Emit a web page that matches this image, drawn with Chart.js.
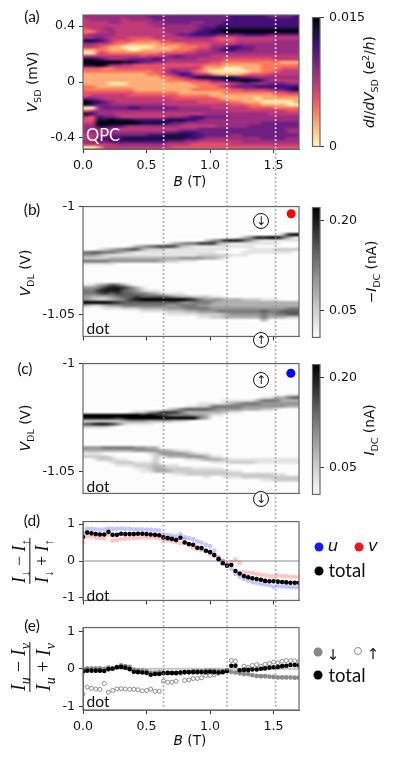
<!DOCTYPE html>
<html>
<head>
<meta charset="utf-8">
<script src="https://cdn.jsdelivr.net/npm/chart.js"></script>
<style>
  html, body { margin: 0; padding: 0; background: #fff; }
  #page { position: relative; width: 398px; height: 757px; overflow: hidden; filter: blur(.3px); }
  canvas { position: absolute; left: 0; }
  .t { position: absolute; transform: translate(-50%, -50%); white-space: nowrap; color: #111; z-index: 5;
       font-family: "DejaVu Sans"; font-size: 13.7px; line-height: 1; }
  .rot { transform: translate(-50%, -50%) rotate(-90deg); }
  .note { font-family: Lato; font-size: 15.5px; }
  .big { font-family: Lato; font-size: 18.5px; }
  .dot { position: absolute; width: 9px; height: 9px; border-radius: 50%; transform: translate(-50%, -50%); z-index: 5; }
  .spin { position: absolute; width: 14px; height: 14px; border: 1px solid #111; border-radius: 50%; background: #fff;
          transform: translate(-50%, -50%); z-index: 5; font: 12px/14px "DejaVu Sans"; text-align: center; color: #111; }
  .frac { display: flex; flex-direction: column; align-items: center; font-family: "Liberation Serif"; font-size: 18px; }
  .frac i { font-style: italic; }
  .frac span { padding: 0 1px; }
  .frac .bar { width: 100%; height: 1.3px; background: #111; margin: 1px 0 3px; padding: 0; }
  sub { font-size: 70%; line-height: 0; }
  sup { font-size: 70%; line-height: 0; }
</style>
</head>
<body>
<div id="page">
  <canvas id="panelA" width="312" height="172" style="top:0"></canvas>
  <canvas id="panelB" width="312" height="153" style="top:195px"></canvas>
  <canvas id="panelC" width="312" height="153" style="top:352px"></canvas>
  <canvas id="panelD" width="312" height="102" style="top:510px"></canvas>
  <canvas id="panelE" width="312" height="117" style="top:616px"></canvas>
  <canvas id="barA" width="78" height="154" style="left:305px;top:5px"></canvas>
  <canvas id="barB" width="78" height="155" style="left:305px;top:195px"></canvas>
  <canvas id="barC" width="78" height="155" style="left:305px;top:352px"></canvas>
  <canvas id="guides" width="398" height="757" style="top:0;z-index:3"></canvas>

  <div class="t note" style="left:32px;top:17px">(a)</div>
  <div class="t note" style="left:32px;top:210px">(b)</div>
  <div class="t note" style="left:25px;top:369px">(c)</div>
  <div class="t note" style="left:32px;top:521px">(d)</div>
  <div class="t note" style="left:32px;top:626px">(e)</div>

  <div class="t rot" style="left:33px;top:82px"><i>V</i><sub>SD</sub> (mV)</div>
  <div class="t rot" style="left:26px;top:273px"><i>V</i><sub>DL</sub> (V)</div>
  <div class="t rot" style="left:26px;top:428px"><i>V</i><sub>DL</sub> (V)</div>
  <div class="t" style="left:190px;top:182px"><i>B</i> (T)</div>
  <div class="t" style="left:190px;top:741px"><i>B</i> (T)</div>

  <div class="t rot" style="left:370px;top:82px"><i>dI</i>/<i>dV</i><sub>SD</sub> (<i>e</i><sup>2</sup>/<i>h</i>)</div>
  <div class="t rot" style="left:372px;top:272px">&minus;<i>I</i><sub>DC</sub> (nA)</div>
  <div class="t rot" style="left:370px;top:430px"><i>I</i><sub>DC</sub> (nA)</div>

  <div class="t note" style="left:103px;top:135px;color:#fff;font-size:16.5px">QPC</div>
  <div class="t note" style="left:98px;top:329px">dot</div>
  <div class="t note" style="left:98px;top:487px">dot</div>
  <div class="t note" style="left:98px;top:596px">dot</div>
  <div class="t note" style="left:98px;top:702px">dot</div>

  <div class="spin" style="left:261px;top:221px">&darr;</div>
  <div class="spin" style="left:261px;top:340px">&uarr;</div>
  <div class="spin" style="left:261px;top:380px">&uarr;</div>
  <div class="spin" style="left:261px;top:499px">&darr;</div>

  <div class="t rot" style="left:31px;top:561px">
    <div class="frac"><span><i>I</i><sub>&darr;</sub> &minus; <i>I</i><sub>&uarr;</sub></span><span class="bar"></span><span><i>I</i><sub>&darr;</sub> + <i>I</i><sub>&uarr;</sub></span></div>
  </div>
  <div class="t rot" style="left:31px;top:667px">
    <div class="frac" style="font-size:20px"><span><i>I</i><sub><i>u</i></sub> &minus; <i>I</i><sub><i>v</i></sub></span><span class="bar"></span><span><i>I</i><sub><i>u</i></sub> + <i>I</i><sub><i>v</i></sub></span></div>
  </div>

  <div class="dot" style="left:319px;top:547px;background:#1a1aee"></div>
  <div class="t" style="left:333px;top:546px;font-size:16.5px"><i>u</i></div>
  <div class="dot" style="left:359px;top:547px;background:#f01818"></div>
  <div class="t" style="left:373px;top:546px;font-size:16.5px"><i>v</i></div>
  <div class="dot" style="left:319px;top:571px;background:#000"></div>
  <div class="t big" style="left:347px;top:570px">total</div>

  <div class="dot" style="left:318px;top:652px;background:#888"></div>
  <div class="t" style="left:333px;top:655px;font-size:15px">&darr;</div>
  <div class="dot" style="left:358px;top:651px;width:6px;height:6px;border:1.3px solid #888"></div>
  <div class="t" style="left:373px;top:654px;font-size:15px">&uarr;</div>
  <div class="dot" style="left:318px;top:675px;background:#000"></div>
  <div class="t big" style="left:347px;top:675px">total</div>
</div>

<script>
// magnetic field sweep shared by the line panels (T)
const bField = [0,.033,.067,.1,.133,.167,.2,.233,.267,.3,.333,.367,.4,.433,.467,.5,.533,.567,.6,.633,.667,.7,.733,.767,.8,.833,.867,.9,.933,.967,1,1.033,1.067,1.1,1.133,1.167,1.2,1.233,1.267,1.3,1.333,1.367,1.4,1.433,1.467,1.5,1.533,1.567,1.6,1.633,1.667,1.7];
const guideB = [.634, 1.134, 1.516];

// (d) spin polarisation
const polTotal = [.65,.77,.75,.73,.72,.72,.79,.71,.71,.74,.73,.73,.73,.74,.74,.73,.72,.71,.70,.64,.62,.60,.57,.63,.50,.46,.44,.36,.35,.28,.24,.16,.05,-.06,-.13,-.11,-.27,-.34,-.41,-.44,-.47,-.49,-.51,-.54,-.55,-.55,-.56,-.57,-.58,-.59,-.59,-.59];
const polU = [.75,.87,.87,.86,.85,.86,.88,.87,.87,.88,.87,.87,.86,.86,.86,.85,.85,.84,.83,.72,.71,.69,.67,.72,.65,.62,.59,.53,.50,.44,.40,.28,.10,0,-.1,-.22,-.35,-.43,-.49,-.53,-.57,-.60,-.62,-.64,-.66,-.70,-.68,-.69,-.70,-.71,-.71,-.71];
const polV = [.50,.67,.66,.63,.62,.61,.71,.55,.57,.60,.61,.61,.62,.63,.64,.64,.63,.63,.62,.56,.56,.54,.51,.48,.58,.42,.36,.33,.30,.27,.20,.15,.08,0,-.09,-.03,.04,-.05,-.30,-.32,-.33,-.36,-.37,-.39,-.41,-.41,-.39,-.41,-.42,-.43,-.43,-.44];

// (e) path polarisation
const pathTotal = [-.07,-.05,-.05,-.05,-.05,-.06,-.01,0,.04,.05,.03,-.01,-.08,-.09,-.10,-.11,-.16,-.14,-.14,-.12,-.11,-.11,-.11,-.10,-.09,-.09,-.09,-.09,-.09,-.09,-.08,-.09,-.10,-.09,-.06,.08,.08,-.04,-.03,-.03,-.02,-.02,0,.01,.03,.04,.05,.07,.08,.10,.10,.09];
const pathDown = [0,.01,.01,.01,.01,0,.03,.02,.05,.09,.07,.05,-.02,-.04,-.05,-.06,-.10,-.10,-.09,-.10,-.11,-.12,-.12,-.10,-.09,-.09,-.06,-.06,-.06,-.05,-.05,-.05,-.06,-.06,-.05,-.08,-.10,-.12,-.14,-.14,-.17,-.19,-.20,-.20,-.21,-.22,-.23,-.23,-.23,-.23,-.24,-.24];
const pathUp = [-.68,-.49,-.52,-.54,-.55,-.39,-.63,-.58,-.54,-.53,-.54,-.55,-.55,-.56,-.59,-.58,-.54,-.60,-.60,-.33,-.36,-.36,-.33,-.12,-.31,-.30,-.26,-.26,-.24,-.18,-.18,-.16,-.12,-.08,-.05,.22,.20,-.05,.07,.04,.09,.11,.07,.12,.14,.18,.16,.20,.22,.22,.21,.19];

// heat map cells, 34 columns from B = 0 to 1.7, top row first, digits are colour levels 0-9
const qpcLevels = [
  "55555 55555 66666 66666 66677 77776 6667",
  "45555 54555 56666 66666 66677 77777 7777",
  "44445 54444 55566 66556 66777 77777 7777",
  "44444 44444 45555 55566 67777 77777 7777",
  "34455 44444 44455 55567 78888 88888 8888",
  "22445 44444 44455 55677 88999 99999 9999",
  "45555 44444 44445 66777 76666 77776 6666",
  "55654 44333 34444 45555 43334 44444 4444",
  "88764 33322 22334 44444 43334 44444 5555",
  "55443 22111 11222 23333 44445 55555 5555",
  "44321 10000 01111 22233 55677 66555 5555",
  "11221 11001 11112 22344 56776 66555 5555",
  "00332 22222 22333 34455 55555 55555 5555",
  "44444 44443 44456 65555 44444 44444 4444",
  "88765 55666 67655 55544 44333 33333 4444",
  "99999 98876 65544 44444 33222 22222 2111",
  "88985 54433 33333 33332 22111 11122 2222",
  "33322 33333 33344 44431 11000 11122 2333",
  "22222 22222 23356 55321 00000 01122 3444",
  "11111 11111 22345 77544 21111 23334 4444",
  "11111 11111 11223 45788 88887 66555 5555",
  "11111 11111 11122 23344 66788 98865 4444",
  "11110 00111 11111 11222 33345 66556 6655",
  "22111 11111 11111 11122 23456 66777 7777",
  "22222 22211 11111 11222 22233 44445 6678",
  "33333 33322 22222 11111 11222 22222 3344",
  "34444 44333 33333 22222 11111 11111 2222",
  "66544 44444 44443 33333 32111 11011 1111",
  "98765 44444 44444 44433 33322 11100 0001",
  "87665 55555 55544 44444 44433 32211 1100",
  "00566 66776 66666 55555 44444 43333 2222",
  "34555 55555 55555 55555 55544 44444 4433",
  "87555 44444 44444 44445 55555 55554 4444",
  "43766 54444 44455 56776 66655 55555 5555",
  "33889 88877 77788 87765 55555 55555 5555",
  "44999 99998 88876 65555 55555 55566 6666",
  "55887 76555 55555 44444 45555 56666 6666",
  "55555 44444 44444 55566 66666 66666 6655",
  "55555 55555 55566 77766 66666 66666 6655",
  "44556 66666 77788 88776 66655 66666 6666",
  "44677 78888 88888 87765 55555 55566 6655",
  "55667 77777 77766 65544 44444 55555 5555",
  "44444 55555 55544 44333 33344 44444 4444",
  "00144 44444 44443 33333 33333 33333 3333"
];
const dotLevelsB = [
  "", "", "", "", "", "", "", "", "",
  "00000 00000 00000 00000 00000 00000 0389",
  "00000 00000 00000 00000 00001 35889 9631",
  "00000 00000 00000 00002 45888 64211 1111",
  "00000 00000 00013 45577 73211 11111 1000",
  "00000 00134 56776 32111 11111 11000 0000",
  "00123 45663 22211 11111 11100 01111 2222",
  "56655 43211 11111 11111 10000 11111 1110",
  "44321 11111 11111 11122 22211 10000 0000",
  "22223 33333 33333 44443 32100",
  "55554 44444 44322 11100",
  "11111",
  "", "", "", "", "", "",
  "11346 53100",
  "44578 87531",
  "55788 86542 11000",
  "55676 76655 43211 10000",
  "43334 56676 66654 33222 11000",
  "43223 45789 99999 98754 44333 22211 1000",
  "99998 76666 66666 54555 43333 33333 3333",
  "32234 45555 55544 55544 33333 33333 3333",
  "00011 12223 33344 45555 44444 44444 4455",
  "00000 00001 11122 23344 45555 55565 5666",
  "00000 00000 00011 11122 22344 44454 5566",
  "00000 00000 00000 00011 22333 33353 3322",
  "00000 00000 00000 00000 00000 00030",
  "", "", "", "", ""
];
const dotLevelsC = [
  "", "", "", "", "", "", "", "", "", "",
  "00000 00000 00000 00000 00000 00000 0011",
  "00000 00000 00000 00000 00000 00011 3356",
  "00000 00000 00000 00000 00111 11355 5333",
  "00000 00000 00000 00011 11234 55544 4444",
  "00000 00000 00000 01122 55555 44444 4433",
  "00000 00000 00023 56666 54444 33322 1000",
  "00000 00122 45777 53333 33211",
  "99999 99998 98765 55443 11000",
  "88888 78999 99999 99953",
  "22222 23444 33332 21000",
  "67887 52111 10000",
  "22221",
  "", "", "", "", "", "",
  "44455 55544 33000",
  "33333 33344 44332 11000",
  "11100 00000 12444 43211",
  "22221 00000 02133 34443 11000",
  "00222 11000 02000 01123 33211 11111 1111",
  "00001 22211 12000 00000 11122 22111 1111",
  "00000 11122 23211 00000",
  "00000 00011 23322 22111 11000",
  "00000 00001 13332 22222 22211 00000",
  "00000 00000 00001 12222 22222 22222 1100",
  "00000 00000 00000 00001 00111 22222 2222",
  "00000 00000 00000 00000 00000 00011 2222",
  "", "", "", ""
];

// the two marker dots, [B, V_DL]
const markerB = [1.638, -1.0033];
const markerC = [1.636, -1.0045];

// axis ranges and ticks
const bRange = [0, 1.7];
const bTicks = [0, .5, 1, 1.5];
const vsdRange = [-.479, .479];
const vsdTicks = [-.4, 0, .4];
const vsdLabels = ["-0.4", "0", "0.4"];
const vdlRange = [-1.06, -1];
const vdlTicks = [-1.05, -1];
const vdlLabels = ["-1.05", "-1"];
const polRangeD = [-1.07, 1.07];
const polRangeE = [-1.1, 1.1];
const polTicks = [-1, 0, 1];
const polLabels = ["-1", "0", "1"];
const barRangeA = [0, .015];
const barTicksA = [0, .015];
const barLabelsA = ["0", "0.015"];
const barRangeB = [.006, .2216];
const barTicksB = [.05, .20];
const barLabelsB = ["0.05", "0.20"];

const magma = ["#fcfdbf", "#feca8d", "#fd9668", "#f1605d", "#cd4071", "#9e2f7f", "#721f81", "#440f76", "#180f3d", "#000004"];
// levels of panel (a), same map but read more saturated off the picture
const magmaCells = ["#fdeeb0", "#fdae78", "#f8785c", "#e4506a", "#bf3a77", "#9a2d80", "#6f1f81", "#440f76", "#180f3d", "#000004"];
const greys = ["#fcfcfc", "#e4e4e4", "#cccccc", "#b0b0b0", "#969696", "#7a7a7a", "#5e5e5e", "#3c3c3c", "#1c1c1c", "#000000"];

Chart.defaults.font.family = '"DejaVu Sans"';
Chart.defaults.font.size = 12.6;
Chart.defaults.color = "#111";

const frameColor = "#666";

// outline on all four sides, the axes only draw two
const framePlugin = {
  id: "frame",
  afterDraw(chart) {
    const a = chart.chartArea, ctx = chart.ctx;
    ctx.save();
    ctx.strokeStyle = frameColor;
    ctx.lineWidth = 1.2;
    ctx.strokeRect(a.left, a.top, a.width, a.height);
    ctx.restore();
  }
};

// paints level rows into a small bitmap and scales it onto the plot through the chart scales
function heatPlugin(rows, colors, xRange, yRange) {
  return {
    id: "heat",
    beforeDatasetsDraw(chart) {
      const cells = rows.map(r => r.replace(/ /g, "").padEnd(34, "0"));
      const off = document.createElement("canvas");
      off.width = 34;
      off.height = cells.length;
      const oc = off.getContext("2d");
      cells.forEach((row, r) => {
        [...row].forEach((d, c) => {
          oc.fillStyle = colors[+d];
          oc.fillRect(c, r, 1, 1);
        });
      });
      const sx = chart.scales.x, sy = chart.scales.y, ctx = chart.ctx;
      const x0 = sx.getPixelForValue(xRange[0]), x1 = sx.getPixelForValue(xRange[1]);
      const y0 = sy.getPixelForValue(yRange[1]), y1 = sy.getPixelForValue(yRange[0]);
      ctx.save();
      ctx.imageSmoothingEnabled = true;
      ctx.imageSmoothingQuality = "high";
      ctx.drawImage(off, x0, y0, x1 - x0, y1 - y0);
      ctx.restore();
    }
  };
}

function xy(xs, ys) {
  return xs.map((x, i) => ({ x: x, y: ys[i] }));
}

function vline(b, y0, y1, color) {
  return { data: [{ x: b, y: y0 }, { x: b, y: y1 }], showLine: true, pointRadius: 0,
           borderColor: color, borderWidth: 1.7, borderDash: [1.8, 2.2] };
}

function fixedTicks(values) {
  return s => { s.ticks = values.map(v => ({ value: v })); };
}

function panel(id, o) {
  return new Chart(document.getElementById(id), {
    type: "scatter",
    data: { datasets: o.datasets },
    plugins: [framePlugin].concat(o.plugins || []),
    options: {
      animation: false,
      responsive: false,
      devicePixelRatio: 1,
      layout: { padding: { top: o.top, right: 13, left: 0, bottom: 0 } },
      plugins: { legend: { display: false }, tooltip: { enabled: false } },
      scales: {
        x: {
          type: "linear", min: bRange[0], max: bRange[1],
          afterBuildTicks: fixedTicks(bTicks),
          afterFit(s) { s.height = o.bottom; },
          border: { color: frameColor },
          grid: { drawOnChartArea: false, display: o.xTicks !== false, tickLength: 4, tickColor: "#333" },
          ticks: { display: !!o.xLabels, maxRotation: 0, autoSkip: false, padding: 5, callback: v => v.toFixed(1) }
        },
        y: {
          type: "linear", min: o.yRange[0], max: o.yRange[1],
          afterBuildTicks: fixedTicks(o.yTicks),
          afterFit(s) { s.width = 83; },
          border: { color: frameColor },
          grid: { drawOnChartArea: false, tickLength: 4, tickColor: "#333" },
          ticks: { autoSkip: false, padding: 4, callback: v => o.yLabels[o.yTicks.indexOf(v)] }
        }
      }
    }
  });
}

function colorbar(id, top, bottom, range, ticks, labels, colors) {
  return new Chart(document.getElementById(id), {
    type: "bar",
    data: {
      labels: [""],
      datasets: [{
        data: [[range[0], range[1]]],
        barPercentage: 1,
        categoryPercentage: 1,
        backgroundColor(ctx) {
          const a = ctx.chart.chartArea;
          if (!a) return colors[0];
          const g = ctx.chart.ctx.createLinearGradient(0, a.bottom, 0, a.top);
          colors.forEach((c, i) => g.addColorStop(i / (colors.length - 1), c));
          return g;
        }
      }]
    },
    plugins: [framePlugin],
    options: {
      animation: false,
      responsive: false,
      devicePixelRatio: 1,
      layout: { padding: { top: top, bottom: bottom, left: 7.5, right: 0 } },
      plugins: { legend: { display: false }, tooltip: { enabled: false } },
      scales: {
        x: { display: false },
        y: {
          position: "right", min: range[0], max: range[1],
          afterBuildTicks: fixedTicks(ticks),
          afterFit(s) { s.width = 63; },
          border: { display: false },
          grid: { drawOnChartArea: false, tickLength: 4, tickColor: "#333" },
          ticks: { autoSkip: false, padding: 5, callback: v => labels[ticks.indexOf(v)] }
        }
      }
    }
  });
}

panel("panelA", {
  top: 15, bottom: 23, xLabels: true, yRange: vsdRange, yTicks: vsdTicks, yLabels: vsdLabels,
  plugins: [heatPlugin(qpcLevels, magmaCells, bRange, vsdRange)],
  datasets: guideB.map(b => vline(b, vsdRange[0], vsdRange[1], "rgba(255,255,255,.9)"))
});

panel("panelB", {
  top: 10.5, bottom: 8, yRange: vdlRange, yTicks: vdlTicks, yLabels: vdlLabels,
  plugins: [heatPlugin(dotLevelsB, greys, bRange, vdlRange)],
  datasets: [{ data: [{ x: markerB[0], y: markerB[1] }], pointRadius: 4.5, backgroundColor: "#f00", borderWidth: 0 }]
});

panel("panelC", {
  top: 10.7, bottom: 8, xTicks: false, yRange: vdlRange, yTicks: vdlTicks, yLabels: vdlLabels,
  plugins: [heatPlugin(dotLevelsC, greys, bRange, vdlRange)],
  datasets: [{ data: [{ x: markerC[0], y: markerC[1] }], pointRadius: 4.5, backgroundColor: "#00f", borderWidth: 0 }]
});

const zeroLine = () => ({ data: xy(bRange, [0, 0]), showLine: true, pointRadius: 0, borderColor: "rgba(150,150,150,.55)", borderWidth: 2 });

panel("panelD", {
  top: 9.7, bottom: 8, yRange: polRangeD, yTicks: polTicks, yLabels: polLabels,
  datasets: [
    { data: xy(bField, polTotal), pointRadius: 2.3, backgroundColor: "#000", borderWidth: 0 },
    { data: xy(bField, polU), pointRadius: 2.4, backgroundColor: "rgba(0,0,255,.22)", borderWidth: 0 },
    { data: xy(bField, polV), pointRadius: 2.4, backgroundColor: "rgba(255,0,0,.22)", borderWidth: 0 },
    zeroLine()
  ]
});

panel("panelE", {
  top: 10, bottom: 23, xLabels: true, yRange: polRangeE, yTicks: polTicks, yLabels: polLabels,
  datasets: [
    { data: xy(bField, pathTotal), pointRadius: 2.3, backgroundColor: "#000", borderWidth: 0 },
    { data: xy(bField, pathDown), pointRadius: 2.4, backgroundColor: "#8c8c8c", borderWidth: 0 },
    { data: xy(bField, pathUp), pointRadius: 2, backgroundColor: "rgba(255,255,255,0)", borderColor: "#8c8c8c", borderWidth: 1 },
    zeroLine()
  ]
});

colorbar("barA", 10, 10, barRangeA, barTicksA, barLabelsA, magma);
colorbar("barB", 10.5, 10, barRangeB, barTicksB, barLabelsB, greys);
colorbar("barC", 10.7, 10.3, barRangeB, barTicksB, barLabelsB, greys);

// grey dotted guides running down through all the lower panels
new Chart(document.getElementById("guides"), {
  type: "scatter",
  data: { datasets: guideB.map(b => vline(b, 0, .807, "rgba(140,140,140,.75)")) },
  options: {
    animation: false,
    responsive: false,
    devicePixelRatio: 1,
    layout: { padding: { top: 149, bottom: 47, left: 83, right: 99 } },
    plugins: { legend: { display: false }, tooltip: { enabled: false } },
    scales: {
      x: { display: false, type: "linear", min: bRange[0], max: bRange[1] },
      y: { display: false, type: "linear", min: 0, max: .807, reverse: true }
    }
  }
});
</script>
</body>
</html>
